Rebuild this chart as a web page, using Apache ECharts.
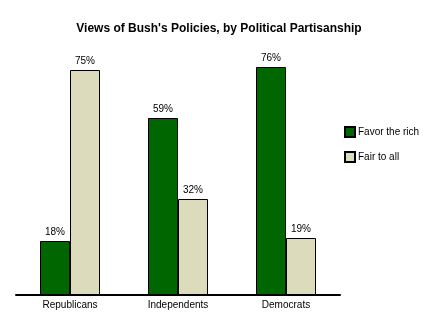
<!DOCTYPE html>
<html>
<head>
<meta charset="utf-8">
<script src="https://cdn.jsdelivr.net/npm/echarts@6/dist/echarts.min.js"></script>
<style>
  html, body { margin: 0; padding: 0; background: #ffffff; }
  #chart { width: 440px; height: 325px; }
</style>
</head>
<body>
<div id="chart"></div>
<script>
// Survey groups and the share of each answer, in percent
const categories = ['Republicans', 'Independents', 'Democrats'];
const favorRich = [18, 59, 76];
const fairToAll = [75, 32, 19];
const seriesNames = ['Favor the rich', 'Fair to all'];

const FONT = '"Liberation Sans", Arial, sans-serif';

const chart = echarts.init(document.getElementById('chart'), null, { renderer: 'canvas' });

const barLabel = {
  show: true,
  position: 'top',
  distance: 4,
  formatter: '{c}%',
  color: '#000',
  fontSize: 10,
  fontFamily: FONT
};

chart.setOption({
  backgroundColor: '#ffffff',
  animation: false,
  title: {
    text: "Views of Bush's Policies, by Political Partisanship",
    left: 214,
    textAlign: 'center',
    top: 18,
    textStyle: { fontFamily: FONT, fontSize: 12, fontWeight: 'bold', color: '#000' }
  },
  legend: {
    orient: 'vertical',
    left: 344,
    top: 126,
    padding: 0,
    itemWidth: 10,
    itemHeight: 10,
    itemGap: 13,
    icon: 'rect',
    data: seriesNames,
    textStyle: { fontFamily: FONT, fontSize: 10, color: '#000', padding: [0, 0, 0, -2] }
  },
  grid: { left: 16, width: 324, top: 55, bottom: 30 },
  xAxis: {
    type: 'category',
    data: categories,
    axisLine: { show: true, lineStyle: { color: '#000', width: 2 } },
    axisTick: { show: false },
    axisLabel: { color: '#000', fontSize: 10, fontFamily: FONT, margin: 5 }
  },
  yAxis: {
    type: 'value',
    min: 0,
    max: 80,
    show: false,
    splitLine: { show: false }
  },
  series: [
    {
      name: seriesNames[0],
      type: 'bar',
      data: favorRich,
      barWidth: 30,
      barGap: '0%',
      itemStyle: { color: '#006600', borderColor: '#000', borderWidth: 1 },
      label: barLabel
    },
    {
      name: seriesNames[1],
      type: 'bar',
      data: fairToAll,
      barWidth: 30,
      barGap: '0%',
      itemStyle: { color: '#dcdcbc', borderColor: '#000', borderWidth: 1 },
      label: barLabel
    }
  ]
});
</script>
</body>
</html>
